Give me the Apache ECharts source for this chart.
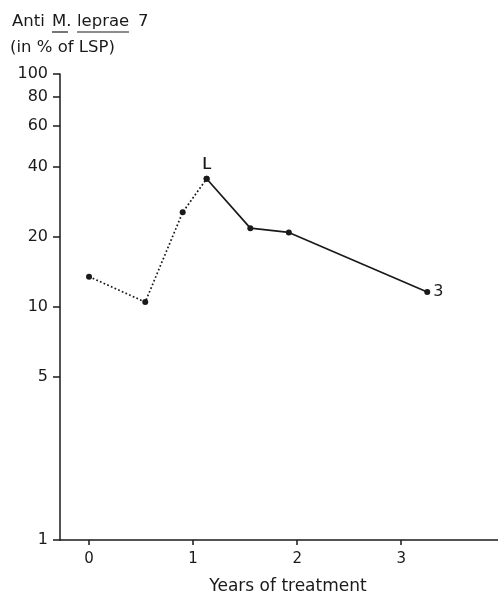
<!DOCTYPE html>
<html>
<head>
<meta charset="utf-8">
<script src="https://cdn.jsdelivr.net/npm/echarts@6/dist/echarts.min.js"></script>
<style>
  html, body { margin: 0; padding: 0; background: #fff; }
  #chart { width: 498px; height: 593px; }
</style>
</head>
<body>
<div id="chart"></div>
<script>
// Anti M. leprae 7 antibody level over the course of treatment
const years = [0, 0.54, 0.90, 1.13, 1.55, 1.92, 3.25];
const antibodyPct = [13.5, 10.5, 25.5, 35.5, 21.8, 20.9, 11.6];
// first four samples are joined by a dotted line, the rest by a solid line
const dottedCount = 4;
const pointLabels = ['', '', '', 'L', '', '', '3'];
const xTicks = [0, 1, 2, 3];
const yTicks = [1, 5, 10, 20, 40, 60, 80, 100];

const FONT = 'DejaVu Sans';
const INK = '#1a1a1a';
const TITLE_FONT = '16.5px "DejaVu Sans"';

function pts(from, to) {
  const out = [];
  for (let i = from; i < to; i++) {
    const item = { value: [years[i], antibodyPct[i]] };
    if (pointLabels[i] === 'L') {
      item.label = { show: true, formatter: 'L', position: 'top', distance: 3 };
    } else if (pointLabels[i]) {
      item.label = { show: true, formatter: pointLabels[i], position: 'right', distance: 3 };
    }
    out.push(item);
  }
  return out;
}

const labelStyle = { color: INK, fontFamily: FONT, fontSize: 16 };

const chart = echarts.init(document.getElementById('chart'), null, { renderer: 'canvas' });
chart.setOption({
  backgroundColor: '#fff',
  animation: false,
  grid: { left: 60, right: 0, top: 74, bottom: 53, containLabel: false, outerBoundsMode: 'none' },
  xAxis: {
    type: 'value',
    min: -0.279,
    max: 3.93,
    name: 'Years of treatment',
    nameLocation: 'middle',
    nameGap: 38,
    nameTextStyle: { color: INK, fontFamily: FONT, fontSize: 17, padding: [0, 0, 0, 18] },
    axisLine: { show: true, onZero: false, lineStyle: { color: INK, width: 1.5 } },
    axisTick: { show: true, inside: false, length: 5, customValues: xTicks, lineStyle: { color: INK, width: 1.5 } },
    axisLabel: { customValues: xTicks, margin: 12, color: INK, fontFamily: FONT, fontSize: 15 },
    splitLine: { show: false }
  },
  yAxis: {
    type: 'log',
    logBase: 10,
    min: 1,
    max: 100,
    axisLine: { show: true, onZero: false, lineStyle: { color: INK, width: 1.5 } },
    axisTick: { show: true, length: 7, customValues: yTicks, lineStyle: { color: INK, width: 1.5 } },
    axisLabel: {
      customValues: yTicks, margin: 12, color: INK, fontFamily: FONT, fontSize: 16,
      formatter: v => String(Math.round(v))
    },
    splitLine: { show: false },
    minorTick: { show: false }
  },
  graphic: [
    { type: 'text', left: 12, top: 13, style: { text: 'Anti', fill: INK, font: TITLE_FONT } },
    { type: 'text', left: 52, top: 13, style: { text: 'M.', fill: INK, font: TITLE_FONT } },
    { type: 'text', left: 77, top: 13, style: { text: 'leprae', fill: INK, font: TITLE_FONT } },
    { type: 'text', left: 138, top: 13, style: { text: '7', fill: INK, font: TITLE_FONT } },
    { type: 'line', shape: { x1: 52, y1: 32, x2: 68, y2: 32 }, style: { stroke: INK, lineWidth: 1.2 } },
    { type: 'line', shape: { x1: 77, y1: 32, x2: 129, y2: 32 }, style: { stroke: INK, lineWidth: 1.2 } },
    { type: 'text', left: 10, top: 39, style: { text: '(in % of LSP)', fill: INK, font: TITLE_FONT } }
  ],
  series: [
    {
      type: 'line',
      data: pts(0, dottedCount),
      symbol: 'circle',
      symbolSize: 6,
      itemStyle: { color: INK },
      lineStyle: { color: INK, width: 1.7, type: [1.7, 2.3] },
      label: labelStyle
    },
    {
      type: 'line',
      data: pts(dottedCount - 1, years.length),
      symbol: 'circle',
      symbolSize: 6,
      itemStyle: { color: INK },
      lineStyle: { color: INK, width: 1.7, type: 'solid' },
      label: labelStyle
    }
  ]
});
</script>
</body>
</html>
